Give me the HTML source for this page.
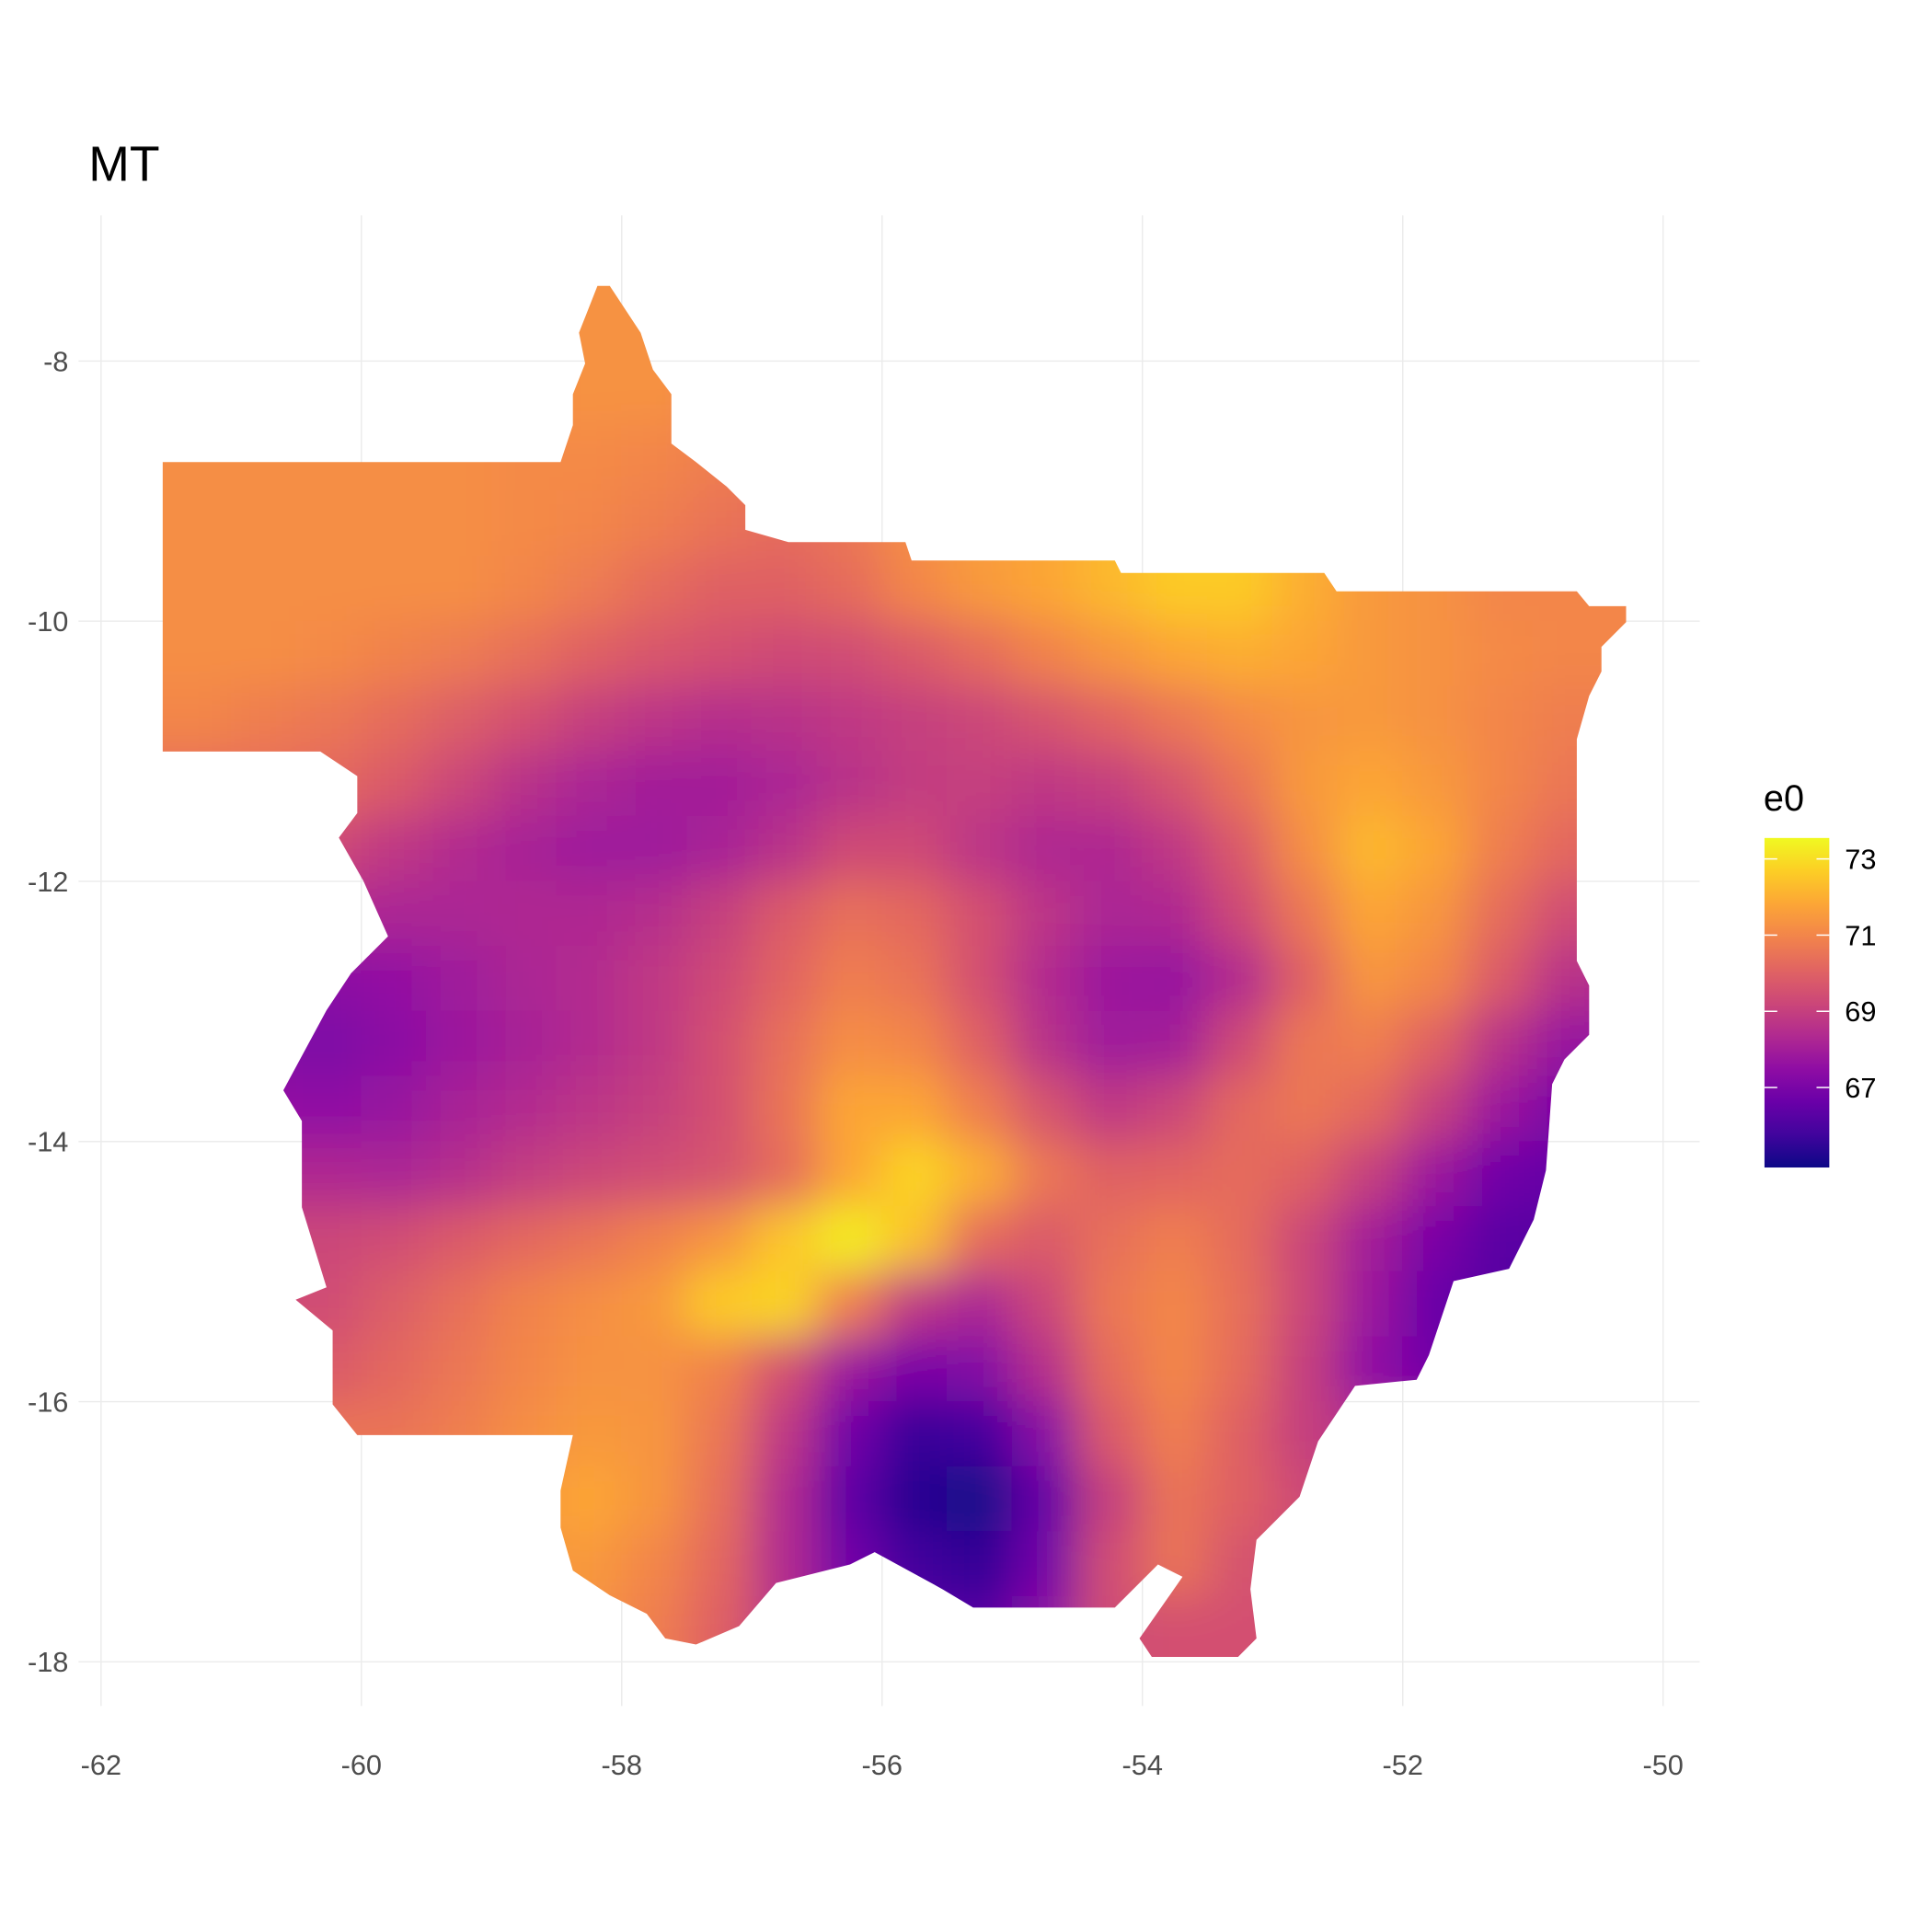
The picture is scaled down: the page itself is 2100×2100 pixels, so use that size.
<!DOCTYPE html>
<html><head><meta charset="utf-8"><style>
html,body{margin:0;padding:0;background:#fff;}
svg{display:block;font-family:"Liberation Sans",Arial,sans-serif;}
</style></head><body>
<svg id="chart" width="2100" height="2100" viewBox="0 0 2100 2100" xmlns="http://www.w3.org/2000/svg">
<defs>
<linearGradient id="plasmaV" x1="0" y1="1" x2="0" y2="0"></linearGradient>
<filter id="smooth" filterUnits="userSpaceOnUse" x="-200" y="-200" width="2500" height="2500"><feGaussianBlur stdDeviation="24"/></filter>
<clipPath id="mtClip"><path id="clipPath"/></clipPath>
</defs>
<rect width="2100" height="2100" fill="#fff"/>
<g transform="scale(0.9922)">
<g id="grid"></g>
<g clip-path="url(#mtClip)"><g id="cells" filter="url(#smooth)"></g></g>
<g id="axes"></g>
<text x="97" y="198" font-size="54" fill="#000">MT</text>
<g id="legend"></g>
</g>
</svg>
<script>
const xTicks=[-62,-60,-58,-56,-54,-52,-50];
const yTicks=[-8,-10,-12,-14,-16,-18];
const legendTicks=[67,69,71,73];
const lonCenters=[-61.25,-60.75,-60.25,-59.75,-59.25,-58.75,-58.25,-57.75,-57.25,-56.75,-56.25,-55.75,-55.25,-54.75,-54.25,-53.75,-53.25,-52.75,-52.25,-51.75,-51.25,-50.75,-50.25];
const latCenters=[-7.75,-8.25,-8.75,-9.25,-9.75,-10.25,-10.75,-11.25,-11.75,-12.25,-12.75,-13.25,-13.75,-14.25,-14.75,-15.25,-15.75,-16.25,-16.75,-17.25,-17.75];
const e0Values=[
[71.2,71.2,71.2,71.2,71.2,71.2,71.3,71.3,71,70.8,71,71.4,71.6,71.8,72.2,72.5,72.5,72,71.5,71.3,71,71,71],
[71.2,71.2,71.2,71.2,71.2,71.2,71.3,71.3,71,70.8,71,71.4,71.6,71.8,72.2,72.5,72.5,72,71.5,71.3,71,71,71],
[71.2,71.2,71.2,71.2,71.2,71.1,71.1,71,70.8,70.6,70.8,71.3,71.6,71.8,72.2,72.5,72.5,72,71.5,71.3,71,71,71],
[71.2,71.2,71.2,71.2,71.2,71.1,71,70.8,70.5,70.3,70.6,71.2,71.6,71.8,72.2,72.6,72.6,72,71.5,71.3,71,71,71],
[71.2,71.2,71.2,71.2,71.2,71,70.7,70.3,70,70,70.3,71,71.5,71.8,72.2,72.6,72.6,72,71.5,71.3,71,71,71],
[71.2,71.2,71.1,70.9,70.7,70.4,70,69.7,69.5,69.3,69.4,69.8,70.3,70.9,71.4,71.8,72,71.8,71.5,71.3,71.1,71,71],
[71,70.8,70.6,70.3,69.9,69.5,69,68.7,68.5,68.6,68.8,69,69.2,69.6,70.1,70.6,71.1,71.4,71.5,71.3,71,70.8,70.8],
[70.3,70.3,70.2,69.8,69.2,68.6,68.2,68,68,68.2,68.6,68.9,69,68.8,69,69.6,70.5,71.5,71.8,71.5,71,70.6,70.5],
[69.5,69.5,69.3,68.8,68.4,68.1,67.9,67.9,68.1,68.6,69.3,69.3,68.7,68.3,68.3,68.8,69.8,71.2,72.2,71.8,70.8,70.2,70],
[68.5,68.5,68.4,68.2,68.2,68.3,68.3,68.5,69,69.8,70.4,70.2,69.5,68.7,68.2,68.3,69.3,70.6,71.8,71.4,70.3,69.4,69.2],
[67.5,67.5,67.4,67.6,67.9,68.2,68.4,68.8,69.3,70.1,70.8,70.5,69.5,68.4,67.8,67.7,68.4,70,71.4,71,69.8,68.6,68.4],
[67.2,67.2,67.1,67.4,67.8,68.1,68.4,68.8,69.5,70.4,71.2,71,70,68.6,67.9,68,69.3,70.6,70.8,70,68.6,67.7,67.6],
[67.6,67.6,67.5,67.7,68.1,68.4,68.7,69,69.5,70.5,71.8,71.8,70.8,69.6,68.8,69.2,70.2,70.6,70.2,69,67.8,67,67],
[68.3,68.3,68.3,68.2,68.5,68.9,69.2,69.4,69.6,70.3,71.8,72.8,72,70.6,70,70.1,70.3,70,69,67.8,66.8,66.5,66.5],
[69.2,69.2,69.2,69.4,69.8,70.2,70.5,70.9,71.4,72.5,73.3,72.4,70.3,69.8,70.4,70.8,70.3,69.2,68,67,66.3,66.2,66.2],
[69.3,69.3,69.4,69.9,70.4,70.9,71.2,71.5,72.6,72.8,70.8,68.8,68.2,69.2,70.6,71,70.4,69.2,67.8,66.6,66.2,66.2,66.2],
[69.8,69.8,69.8,70.2,70.6,71,71.3,71.3,70.9,69.5,67.8,67,67.2,68.5,70.3,71,70.3,69,67.5,66.8,66.8,66.8,66.8],
[70.5,70.5,70.5,70.5,70.8,71.2,71.5,71.4,70.6,68.8,66.8,65.6,65.8,67.3,69.8,70.8,70,69,68.4,68,68,68,68],
[71,71,71,71,71.2,71.5,71.8,71.4,70.4,68.4,66.4,65.3,65,66.5,69,70.5,70,69.3,69,69,69,69,69],
[71,71,71,71,71.2,71.4,71.5,71,70.2,68.4,66.8,65.8,65.5,66.8,69.4,70.5,69.6,69.3,69.3,69.3,69.3,69.3,69.3],
[71,71,71,71,71.2,71.3,71.3,70.8,70,68.6,67.2,66.4,66.2,67.4,69.4,69.5,69.5,69.5,69.5,69.5,69.5,69.5,69.5]
];
// state outline (reference-image pixels, converted to lon/lat below)
const outlineRef=[[132,375],[455,375],[465,345],[465,320],[475,295],[470,270],[485,232],[495,232],[520,270],[530,300],[545,320],[545,360],[565,375],[590,395],[605,410],[605,430],[640,440],[735,440],[740,455],[905,455],[910,465],[1075,465],[1085,480],[1280,480],[1290,492],[1320,492],[1320,505],[1300,525],[1300,545],[1290,565],[1280,600],[1280,780],[1290,800],[1290,840],[1270,860],[1260,880],[1255,950],[1245,990],[1225,1030],[1180,1040],[1160,1100],[1150,1120],[1100,1125],[1070,1170],[1055,1215],[1020,1250],[1015,1290],[1020,1330],[1005,1345],[935,1345],[925,1330],[960,1280],[940,1270],[905,1305],[790,1305],[765,1290],[710,1260],[690,1270],[630,1285],[600,1320],[565,1335],[540,1330],[525,1310],[495,1295],[465,1275],[455,1240],[455,1210],[465,1165],[290,1165],[270,1140],[270,1080],[240,1055],[265,1045],[245,980],[245,910],[230,885],[265,820],[285,790],[315,760],[295,715],[275,680],[290,660],[290,630],[260,610],[132,610]];
const vMin=64.9, vMax=73.55;
const plasmaStops=["#0d0887","#41049d","#6a00a8","#8f0da4","#b12a90","#cc4778","#e16462","#f2844b","#fca636","#fcce25","#f0f921"];

const NS="http://www.w3.org/2000/svg";
const X=lon=>110.7+(lon+62)*142.6;
const Y=lat=>395.5+(-8-lat)*142.5;
function mk(tag,attrs,parent){const e=document.createElementNS(NS,tag);for(const k in attrs)e.setAttribute(k,attrs[k]);parent.appendChild(e);return e;}
function hex2rgb(h){return[parseInt(h.slice(1,3),16),parseInt(h.slice(3,5),16),parseInt(h.slice(5,7),16)];}
function plasma(v){let t=(v-vMin)/(vMax-vMin);t=Math.max(0,Math.min(1,t));const p=t*10,i=Math.min(9,Math.floor(p)),f=p-i;const a=hex2rgb(plasmaStops[i]),b=hex2rgb(plasmaStops[i+1]);return `rgb(${a.map((c,k)=>Math.round(c+(b[k]-c)*f)).join(',')})`;}

// grid
const grid=document.getElementById('grid');
xTicks.forEach(t=>{const l=mk('line',{x1:X(t),x2:X(t),y1:236,y2:1869,stroke:'#ebebeb','stroke-width':1.4},grid);

});
yTicks.forEach(t=>{const l=mk('line',{x1:86,x2:1862,y1:Y(t),y2:Y(t),stroke:'#ebebeb','stroke-width':1.4},grid);

});

// cells (edge cells extended outward so the smoothing blur does not fade at the border)
const cells=document.getElementById('cells');
const half=0.25, pad=2;
const nR=latCenters.length, nC=lonCenters.length;
latCenters.forEach((lat,r)=>{lonCenters.forEach((lon,c)=>{
  const lonL=lon-half-(c===0?pad:0), lonR=lon+half+(c===nC-1?pad:0);
  const latT=lat+half+(r===0?pad:0), latB=lat-half-(r===nR-1?pad:0);
  const x0=X(lonL),x1=X(lonR),y0=Y(latT),y1=Y(latB);
  const rc=mk('rect',{x:x0-0.5,y:y0-0.5,width:x1-x0+1,height:y1-y0+1,fill:plasma(e0Values[r][c])},cells);
  
  
});});

// clip outline
const refToLon=x=>-62+(x-82)/105.67, refToLat=y=>-8-(y-293)/105.6;
document.getElementById('clipPath').setAttribute('d','M'+outlineRef.map(p=>X(refToLon(p[0])).toFixed(1)+','+Y(refToLat(p[1])).toFixed(1)).join('L')+'Z');

// axes labels
const axes=document.getElementById('axes');
xTicks.forEach(t=>{const tx=mk('text',{x:X(t),y:1944,'font-size':31,fill:'#4d4d4d','text-anchor':'middle'},axes);tx.textContent=String(t);

});
yTicks.forEach(t=>{const tx=mk('text',{x:75,y:Y(t)+11,'font-size':31,fill:'#4d4d4d','text-anchor':'end'},axes);tx.textContent=String(t);

});

// legend
const grad=document.getElementById('plasmaV');
plasmaStops.forEach((c,i)=>mk('stop',{offset:(i*10)+'%','stop-color':c},grad));
const lg=document.getElementById('legend');
const lt=mk('text',{x:1932,y:888,'font-size':40,fill:'#000'},lg);lt.textContent='e0';


const barTop=918,barBot=1279,barX=1933,barW=71;
const LY=v=>barBot-(v-vMin)/(vMax-vMin)*(barBot-barTop);
const bar=mk('rect',{x:barX,y:barTop,width:barW,height:barBot-barTop,fill:'url(#plasmaV)'},lg);


legendTicks.forEach(v=>{
  const y=LY(v);
  const a=mk('line',{x1:barX,x2:barX+14,y1:y,y2:y,stroke:'#fff','stroke-width':1.5},lg);
  
  
  const b=mk('line',{x1:barX+barW-14,x2:barX+barW,y1:y,y2:y,stroke:'#fff','stroke-width':1.5},lg);
  
  
  const tx=mk('text',{x:2021,y:y+11,'font-size':31,fill:'#000'},lg);tx.textContent=String(v);
  
  
});
</script>
</body></html>
